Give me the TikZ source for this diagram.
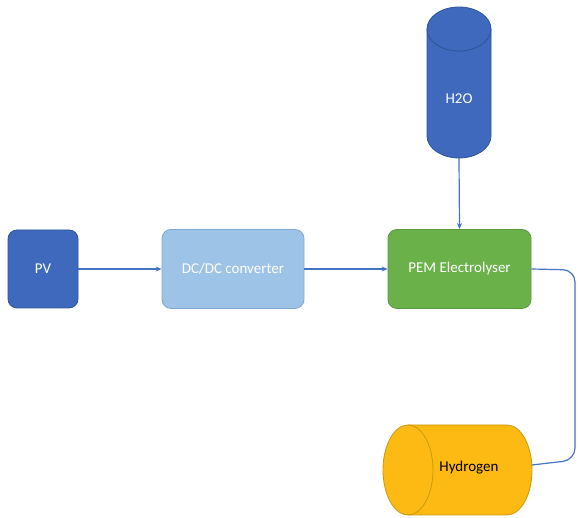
\documentclass[tikz,border=0pt]{standalone}
\usepackage{fontspec}
\setmainfont{Carlito}
\usetikzlibrary{arrows.meta}
\definecolor{pvblue}{HTML}{3E69BC}
\definecolor{pvedge}{HTML}{2F5597}
\definecolor{dcblue}{HTML}{9DC3E6}
\definecolor{dcedge}{HTML}{7FA8D4}
\definecolor{pemgreen}{HTML}{6AB14A}
\definecolor{pemedge}{HTML}{5A9A3C}
\definecolor{hydfill}{HTML}{FDBA13}
\definecolor{hydedge}{HTML}{C99A10}
\definecolor{wire}{HTML}{4472C4}
\tikzset{
  lbl/.style={font=\fontsize{15}{17}\selectfont},
  box/.style={lbl, rounded corners=9pt, draw, line width=0.8pt, text=white, inner sep=0pt},
  wirearrow/.style={draw=wire, line width=1.2pt, -{Stealth[length=6pt,width=5pt]}},
  wireline/.style={draw=wire, line width=1.2pt, rounded corners=12pt},
}
\begin{document}
\begin{tikzpicture}[x=1pt,y=1pt]
\useasboundingbox (0,0) rectangle (579,518);
% boxes
\node[box, fill=pvblue, draw=pvedge, minimum width=70pt, minimum height=78pt] (pv) at (43,249) {PV};
\node[box, fill=dcblue, draw=dcedge, minimum width=142pt, minimum height=79pt] (dc) at (233,249) {DC/DC converter};
\node[box, fill=pemgreen, draw=pemedge, minimum width=143pt, minimum height=79pt] (pem) at (459.5,249) {PEM Electrolyser};
% H2O cylinder
\filldraw[fill=pvblue, draw=pvedge, line width=0.8pt]
  (427,489) arc[start angle=180, end angle=0, x radius=32, y radius=22]
  -- (491,382) arc[start angle=0, end angle=-180, x radius=32, y radius=22] -- cycle;
\draw[pvedge, line width=0.8pt] (427,489) arc[start angle=180, end angle=360, x radius=32, y radius=22];
\node[lbl, text=white] (h2o) at (459,419) {H2O};
\coordinate (h2obot) at (459,360);
% Hydrogen cylinder
\filldraw[fill=hydfill, draw=hydedge, line width=0.8pt]
  (408,93) arc[start angle=90, end angle=270, x radius=25, y radius=45]
  -- (507,3) arc[start angle=-90, end angle=90, x radius=25, y radius=45] -- cycle;
\draw[hydedge, line width=0.8pt] (408,93) arc[start angle=90, end angle=-90, x radius=25, y radius=45];
\node[lbl, text=black] (hyd) at (469,50) {Hydrogen};
\coordinate (hydend) at (532,53);
\coordinate (c1) at (575,248);
\coordinate (c2) at (575,58);
% connectors
\draw[wirearrow] (pv.east) -- (dc.west);
\draw[wirearrow] (dc.east) -- (pem.west);
\draw[wirearrow] (h2obot) -- (pem.north);
\draw[wireline] (pem.east) -- (c1) -- (c2) -- (hydend);
\end{tikzpicture}
\end{document}
